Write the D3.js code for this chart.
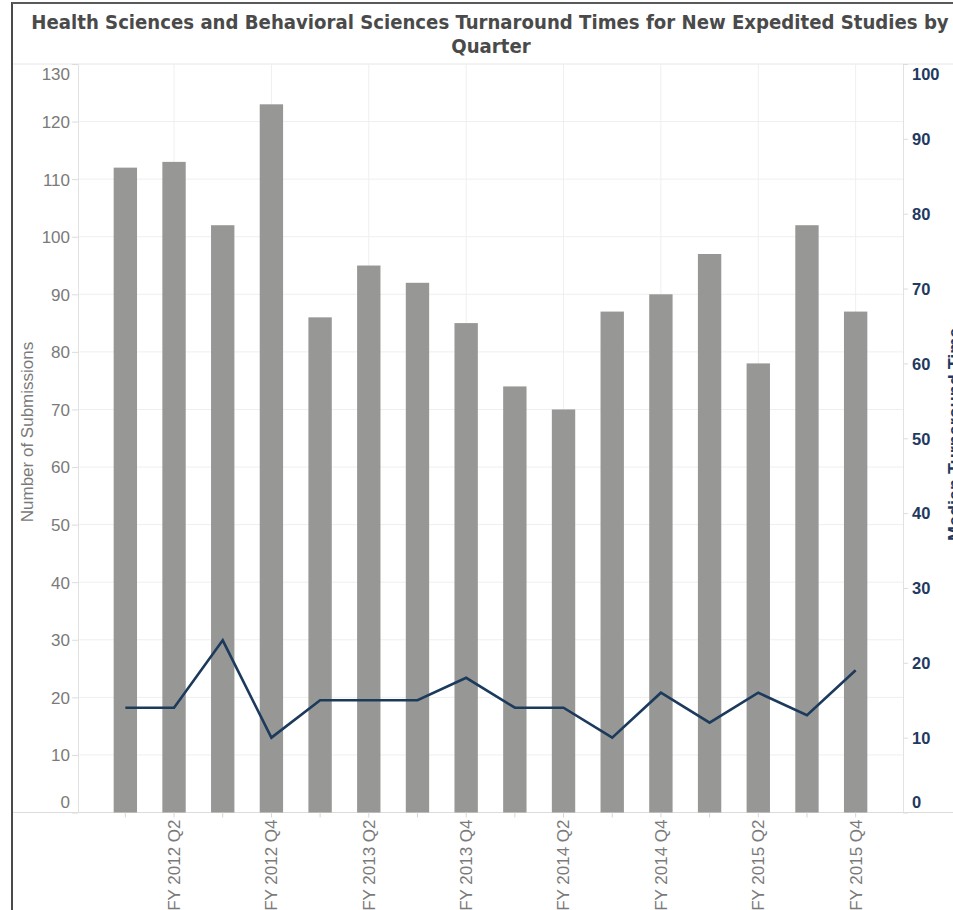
<!DOCTYPE html>
<html>
<head>
<meta charset="utf-8">
<script src="https://cdn.jsdelivr.net/npm/d3@7"></script>
<style>
  html, body { margin: 0; padding: 0; background: #fff; }
  svg { display: block; }
</style>
</head>
<body>
<svg id="chart" width="953" height="910"></svg>
<script>
const titleLines = ["Health Sciences and Behavioral Sciences Turnaround Times for New Expedited Studies by", "Quarter"];
const categories = [
  "FY 2012 Q1","FY 2012 Q2","FY 2012 Q3","FY 2012 Q4",
  "FY 2013 Q1","FY 2013 Q2","FY 2013 Q3","FY 2013 Q4",
  "FY 2014 Q1","FY 2014 Q2","FY 2014 Q3","FY 2014 Q4",
  "FY 2015 Q1","FY 2015 Q2","FY 2015 Q3","FY 2015 Q4"
];
const submissions = [112,113,102,123,86,95,92,85,74,70,87,90,97,78,102,87];
const turnaround  = [14,14,23,10,15,15,15,18,14,14,10,16,12,16,13,19];
const leftTicks  = [0,10,20,30,40,50,60,70,80,90,100,110,120,130];
const rightTicks = [0,10,20,30,40,50,60,70,80,90,100];
const leftTitle = "Number of Submissions";
const rightTitle = "Median Turnaround Time";

const W = 953, H = 910;
const L = 78, R = 903, T = 64, B = 812.5;
const svg = d3.select("#chart");

const x = d3.scaleBand().domain(categories).range([L + 23, R - 23]).paddingInner(0.52).paddingOuter(0.26);
const yL = d3.scaleLinear().domain([0, 130]).range([B, T]);
const yR = d3.scaleLinear().domain([0, 100]).range([B, T]);

// frame
svg.append("line").attr("x1", 12).attr("x2", 12).attr("y1", 2).attr("y2", H).attr("stroke", "#4a4a4a").attr("stroke-width", 2);
svg.append("line").attr("x1", 12).attr("x2", W).attr("y1", 3).attr("y2", 3).attr("stroke", "#5a5a5a").attr("stroke-width", 2);
svg.append("line").attr("x1", 13).attr("x2", W).attr("y1", T).attr("y2", T).attr("stroke", "#e6e6e6");
svg.append("line").attr("x1", 13).attr("x2", W).attr("y1", B).attr("y2", B).attr("stroke", "#dcdcdc");

// gridlines
svg.append("g").selectAll("line").data(leftTicks.filter(d => d > 0 && d < 130)).join("line")
  .attr("x1", L).attr("x2", R).attr("y1", d => yL(d)).attr("y2", d => yL(d))
  .attr("stroke", "#efefef");
svg.append("g").selectAll("line").data(categories.filter((d, i) => i % 2 === 1)).join("line")
  .attr("x1", d => x(d) + x.bandwidth() / 2).attr("x2", d => x(d) + x.bandwidth() / 2)
  .attr("y1", T).attr("y2", B).attr("stroke", "#efefef");

// bars
svg.append("g").selectAll("rect").data(categories).join("rect")
  .attr("x", d => x(d)).attr("width", x.bandwidth())
  .attr("y", (d, i) => yL(submissions[i])).attr("height", (d, i) => B - yL(submissions[i]))
  .attr("fill", "#979895");

// line
const line = d3.line().x((d, i) => x(categories[i]) + x.bandwidth() / 2).y(d => yR(d));
svg.append("path").datum(turnaround).attr("d", line)
  .attr("fill", "none").attr("stroke", "#1c3a5c").attr("stroke-width", 2.6).attr("stroke-linejoin", "miter");

// axes
function clampLabels(g) {
  g.selectAll(".tick text").each(function() {
    const t = d3.select(this.parentNode).attr("transform");
    const ty = +t.match(/translate\([^,]+,([^)]+)\)/)[1];
    let dy = 0;
    if (ty - T < 10) dy = T + 10 - ty;
    if (B - ty < 10.5) dy = B - 10.5 - ty;
    d3.select(this).attr("y", dy).attr("dy", "0.35em");
  });
}
const gl = svg.append("g").attr("transform", `translate(${L},0)`)
  .call(d3.axisLeft(yL).tickValues(leftTicks).tickSize(6).tickPadding(2).tickSizeOuter(0));
gl.select(".domain").attr("stroke", "#e2e2e2");
gl.selectAll(".tick line").attr("stroke", "#dcdcdc");
gl.selectAll(".tick text").attr("fill", "#7a7a7a").attr("font-family", "Liberation Sans, Arial, sans-serif").attr("font-size", 17);
clampLabels(gl);

const gr = svg.append("g").attr("transform", `translate(${R},0)`)
  .call(d3.axisRight(yR).tickValues(rightTicks).tickSize(5).tickPadding(4).tickSizeOuter(0));
gr.select(".domain").attr("stroke", "#e2e2e2");
gr.selectAll(".tick line").attr("stroke", "#dcdcdc");
gr.selectAll(".tick text").attr("fill", "#1f3a60").attr("font-weight", "bold").attr("font-family", "Liberation Sans, Arial, sans-serif").attr("font-size", 16.5);
clampLabels(gr);

const gx = svg.append("g").attr("transform", `translate(0,${B})`)
  .call(d3.axisBottom(x).tickSize(5).tickSizeOuter(0).tickFormat((d, i) => i % 2 === 1 ? d : ""));
gx.select(".domain").remove();
gx.selectAll(".tick line").attr("stroke", "#d6d6d6");
gx.selectAll(".tick text")
  .attr("fill", "#7a7a7a").attr("font-family", "Liberation Sans, Arial, sans-serif").attr("font-size", 17)
  .attr("transform", "rotate(-90)")
  .attr("text-anchor", "end").attr("x", -7).attr("y", 0).attr("dy", "0.35em");

// axis titles
svg.append("text").attr("transform", "translate(33,432) rotate(-90)")
  .attr("text-anchor", "middle").attr("fill", "#7a7a7a")
  .attr("font-family", "Liberation Sans, Arial, sans-serif").attr("font-size", 17).text(leftTitle);
svg.append("text").attr("transform", "translate(961,541) rotate(-90)")
  .attr("text-anchor", "start").attr("fill", "#1f3a60").attr("font-weight", "bold")
  .attr("font-family", "Liberation Sans, Arial, sans-serif").attr("font-size", 18).text(rightTitle);

// title
const tg = svg.append("g");
const t1 = tg.append("text").attr("x", 490).attr("y", 29).attr("text-anchor", "middle")
  .attr("fill", "#4a4a4a").attr("font-weight", "bold")
  .attr("font-family", "DejaVu Sans Condensed, DejaVu Sans, sans-serif").attr("font-stretch", "condensed")
  .attr("font-size", 18).text(titleLines[0]);
const w = t1.node().getComputedTextLength();
const fs = 18 * 918 / w;
t1.attr("font-size", fs);
tg.append("text").attr("x", 491).attr("y", 53).attr("text-anchor", "middle")
  .attr("fill", "#4a4a4a").attr("font-weight", "bold")
  .attr("font-family", "DejaVu Sans Condensed, DejaVu Sans, sans-serif").attr("font-stretch", "condensed")
  .attr("font-size", fs).text(titleLines[1]);
</script>
</body>
</html>
